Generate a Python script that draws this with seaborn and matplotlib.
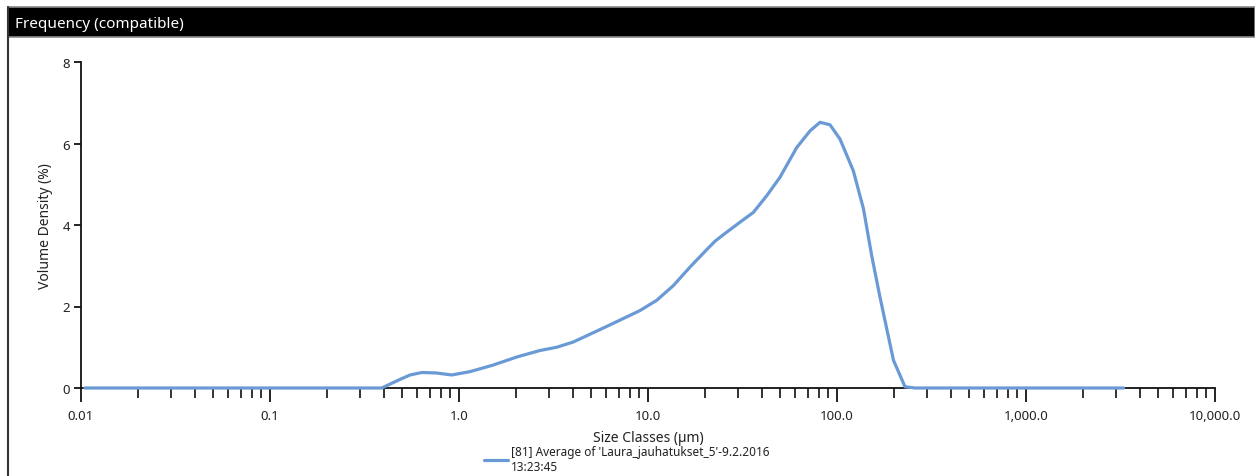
import matplotlib
matplotlib.use("Agg")
import matplotlib.pyplot as plt
from matplotlib.patches import Rectangle
from matplotlib.lines import Line2D
from matplotlib.ticker import FixedLocator, FixedFormatter, LogLocator, NullFormatter
import seaborn as sns
import pandas as pd

# Particle size classes (µm) and volume density (%)
sizes = [0.0105, 0.39, 0.487, 0.551, 0.635, 0.755, 0.915, 1.14, 1.51, 2.02,
         2.68, 3.29, 4.03, 6.04, 9.07, 11.1, 13.6, 16.7, 20.5, 22.6, 25.0,
         30.7, 36.1, 42.5, 49.9, 61.2, 72.0, 81.3, 91.8, 103.7, 122.0,
         138.0, 153.0, 169.0, 199.0, 229.0, 259.0, 3283.0]
density = [0.0, 0.0, 0.21, 0.32, 0.38, 0.37, 0.32, 0.40, 0.56, 0.76,
           0.92, 1.00, 1.13, 1.51, 1.90, 2.15, 2.51, 2.97, 3.40, 3.60, 3.76,
           4.07, 4.31, 4.72, 5.17, 5.90, 6.31, 6.52, 6.46, 6.11, 5.33,
           4.40, 3.22, 2.22, 0.68, 0.03, 0.0, 0.0]

x_ticks = [0.01, 0.1, 1.0, 10.0, 100.0, 1000.0, 10000.0]
x_tick_labels = ["0.01", "0.1", "1.0", "10.0", "100.0", "1,000.0", "10,000.0"]
y_ticks = [0, 2, 4, 6, 8]

series_label = "[81] Average of 'Laura_jauhatukset_5'-9.2.2016\n13:23:45"
title_text = "Frequency (compatible)"

sns.set_style("ticks")
plt.rcParams["font.family"] = ["Noto Sans", "DejaVu Sans"]
text_color = "#222222"
line_color = "#6A9AD6"

W, H = 1255, 477
fig = plt.figure(figsize=(W / 100, H / 100), dpi=100)
fig.patch.set_facecolor("white")

# Header bar and panel frame
fig.add_artist(Rectangle((8 / W, 1 - 38 / H), (W - 8) / W, 30 / H,
                         transform=fig.transFigure, facecolor="black",
                         edgecolor="#8a8a8a", linewidth=1.2))
fig.add_artist(Line2D([7.5 / W, 7.5 / W], [0, 1 - 8 / H],
                      transform=fig.transFigure, color="#333333", linewidth=1.5))
fig.text(15 / W, 1 - 24 / H, title_text, color="white", fontsize=11,
         va="center", ha="left")

ax = fig.add_axes([81 / W, 1 - 389 / H, (1215 - 81) / W, (389 - 63) / H])
df = pd.DataFrame({"size": sizes, "density": density})
sns.lineplot(data=df, x="size", y="density", ax=ax, color=line_color,
             linewidth=2.3, label=series_label, legend=False, clip_on=False,
             zorder=5)

ax.set_xscale("log")
ax.set_xlim(0.01, 10000)
ax.set_ylim(0, 8)

ax.xaxis.set_major_locator(FixedLocator(x_ticks))
ax.xaxis.set_major_formatter(FixedFormatter(x_tick_labels))
ax.xaxis.set_minor_locator(LogLocator(base=10, subs=range(2, 10), numticks=20))
ax.xaxis.set_minor_formatter(NullFormatter())
ax.set_yticks(y_ticks)

ax.tick_params(axis="x", which="major", length=10, width=1.3, pad=5,
               labelsize=9.5, colors="#111111", labelcolor=text_color)
ax.tick_params(axis="x", which="minor", length=7, width=1.2, colors="#111111")
ax.tick_params(axis="y", which="major", length=5, width=1.3, pad=3,
               labelsize=9.5, colors="#111111", labelcolor=text_color)

for side in ["top", "right"]:
    ax.spines[side].set_visible(False)
for side in ["left", "bottom"]:
    ax.spines[side].set_linewidth(1.3)
    ax.spines[side].set_color("#111111")

ax.set_xlabel("Size Classes (µm)", fontsize=10, color=text_color, labelpad=6)
ax.set_ylabel("Volume Density (%)", fontsize=10, color=text_color, labelpad=7)

handles, labels = ax.get_legend_handles_labels()
fig.legend(handles, labels, loc="upper left",
           bbox_to_anchor=(478 / W, 1 - 440 / H), frameon=False,
           fontsize=8.5, handlelength=2.0, handletextpad=0.3,
           labelcolor=text_color, borderpad=0)

fig.savefig("out.png", dpi=100)
